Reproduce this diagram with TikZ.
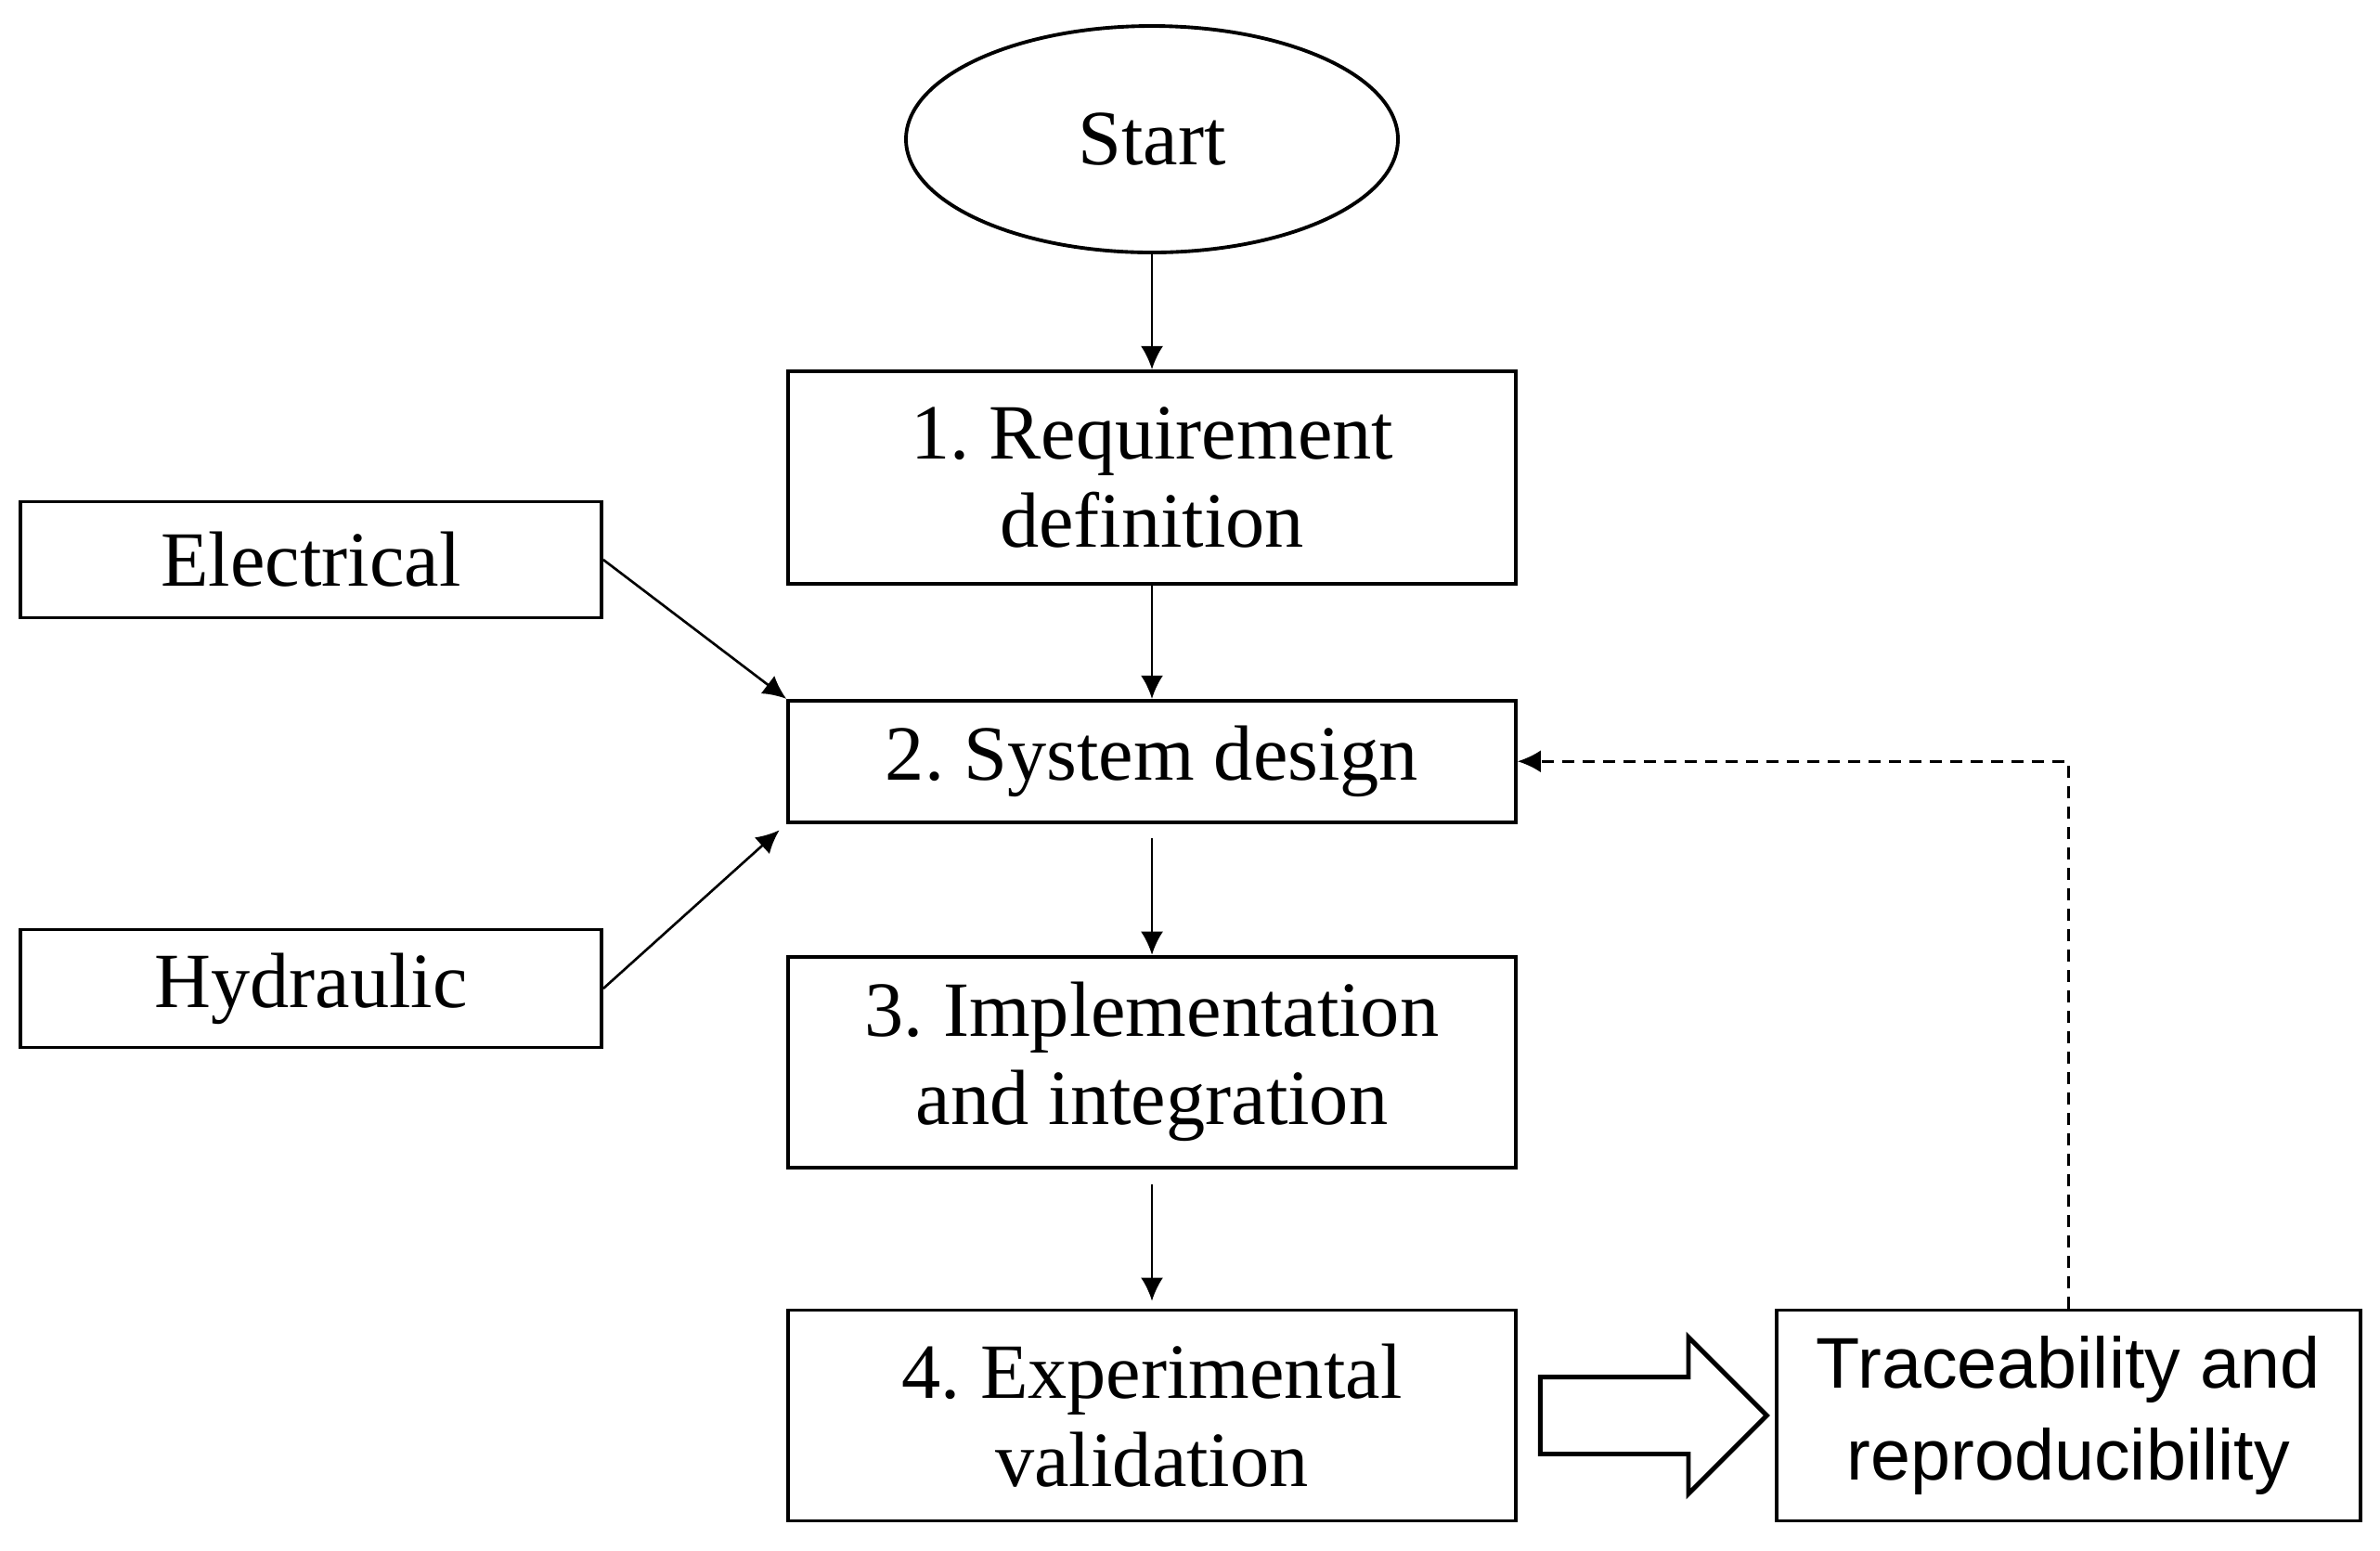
\documentclass[tikz,border=0pt]{standalone}
\usepackage{fontspec}
\setmainfont{Liberation Serif}
\newfontfamily\tracefont{Liberation Sans}
\usetikzlibrary{arrows.meta, positioning, shapes.geometric, shapes.arrows}
\frenchspacing

\begin{document}
\begin{tikzpicture}[>={Latex[length=2.5mm, width=2.4mm]}, font=\fontsize{24}{27}\selectfont, line width=0.75pt]
  \tikzstyle{startnode}=[draw, ellipse, line width=1.1pt, minimum width=5.3cm, minimum height=2.44cm, inner sep=0pt]
  \tikzstyle{stepnode}=[draw, line width=1.1pt, align=center, minimum width=7.84cm, inner sep=0pt]
  \tikzstyle{sidebox}=[draw, line width=1.1pt, minimum width=6.26cm, inner sep=0pt]
  \tikzstyle{tracebox}=[draw, line width=1.1pt, align=center, minimum width=6.29cm, minimum height=2.27cm, inner sep=0pt, font=\tracefont\fontsize{22}{28}\selectfont]
  \tikzstyle{blockarrow}=[draw, single arrow, line width=1.4pt, minimum height=2.44cm, inner sep=0.39cm, single arrow head extend=0.43cm, single arrow head indent=0pt]

  \useasboundingbox (0,0) rectangle (25.64,-16.70);

  % Main sequence (top -> bottom)
  \node[startnode] (start) at (12.41,-1.50) {Start};
  \node[stepnode, minimum height=2.29cm, below=1.24cm of start] (req) {1. Requirement\\definition};
  \node[stepnode, minimum height=1.31cm, below=1.22cm of req] (des) {2. System design};
  \node[stepnode, minimum height=2.27cm, below=1.41cm of des] (impl) {3. Implementation\\and integration};
  \node[stepnode, minimum height=2.27cm, below=1.50cm of impl] (val) {4. Experimental\\validation};

  % Inputs to the design step
  \node[sidebox, minimum height=1.25cm] (elec) at (3.35,-6.03) {Electrical};
  \node[sidebox, minimum height=1.27cm] (hyd) at (3.35,-10.65) {Hydraulic};

  % Outcome
  \node[blockarrow, right=0.22cm of val] (push) {};
  \node[tracebox, right=2.77cm of val] (trace) {Traceability and\\reproducibility};

  \draw[->] (start) -- (req);
  \draw[->] (req) -- (des);
  \draw[->, shorten <=0.15cm] (des) -- (impl);
  \draw[->, shorten <=0.16cm, shorten >=0.08cm] (impl) -- (val);
  \draw[->] (elec.east) -- (des.north west);
  \draw[->, shorten >=0.1cm] (hyd.east) -- (des.south west);
  \draw[->, dash pattern=on 1.3mm off 0.9mm] (trace.north) |- (des.east);
\end{tikzpicture}
\end{document}
